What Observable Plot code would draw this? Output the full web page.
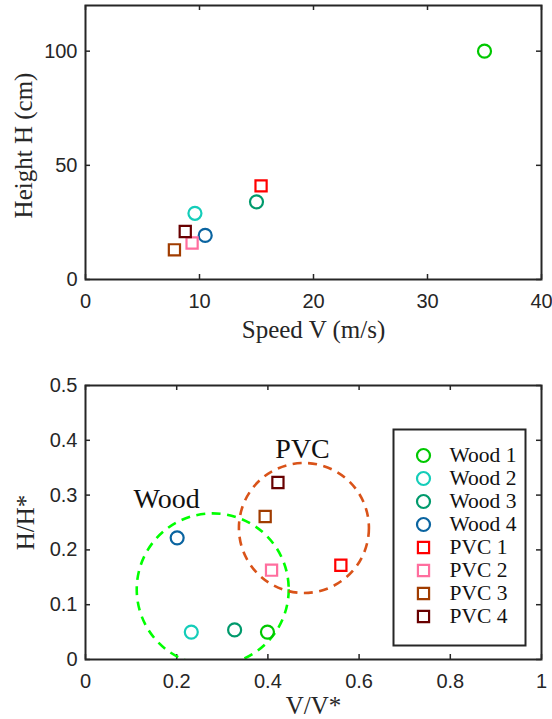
<!DOCTYPE html>
<html><head><meta charset="utf-8">
<script src="https://cdn.jsdelivr.net/npm/d3@7"></script>
<script src="https://cdn.jsdelivr.net/npm/@observablehq/plot@0.6"></script>
<style>
html,body{margin:0;padding:0;background:#fff;}
#wrap{position:relative;width:552px;height:719px;overflow:hidden;background:#fff;}
#wrap svg{display:block;}
#legend{position:absolute;left:392px;top:428px;}
</style></head><body><div id="wrap"></div>
<script>
// ---- data ----
const series = ["Wood 1","Wood 2","Wood 3","Wood 4","PVC 1","PVC 2","PVC 3","PVC 4"];
const material = ["Wood","Wood","Wood","Wood","PVC","PVC","PVC","PVC"];
const colors = ["#00c800","#14cdb9","#009a6c","#0a64a0","#ff0000","#ff6e9e","#a03c00","#680000"];
const speed = [35.0, 9.6, 15.0, 10.5, 15.4, 9.35, 7.8, 8.75];      // V (m/s)
const heightCm = [100, 29, 34, 19.3, 41, 16, 13, 21];               // H (cm)
const vRatio = [0.399, 0.232, 0.327, 0.201, 0.560, 0.408, 0.394, 0.422]; // V/V*
const hRatio = [0.050, 0.050, 0.054, 0.222, 0.172, 0.163, 0.261, 0.323]; // H/H*
const groupNames = ["Wood","PVC"];
const groupCenterV = [0.279, 0.479];
const groupCenterH = [0.128, 0.240];
const groupLabelV = [0.178, 0.476];
const groupLabelH = [0.293, 0.384];
const groupColors = ["#00ff00","#d95319"];
const topXTicks = [0,10,20,30,40];
const topYTicks = [0,50,100];
const botXTicks = [0,0.2,0.4,0.6,0.8,1];
const botYTicks = [0,0.1,0.2,0.3,0.4,0.5];
const topXLabel = "Speed V (m/s)";
const topYLabel = "Height H (cm)";
const botXLabel = "V/V*";
const botYLabel = "H/H*";

const rows = series.map((s,i)=>({s, m: material[i], c: colors[i], v: speed[i], h: heightCm[i], vr: vRatio[i], hr: hRatio[i]}));
const groups = groupNames.map((g,i)=>({g, cv: groupCenterV[i], ch: groupCenterH[i], lv: groupLabelV[i], lh: groupLabelH[i], c: groupColors[i]}));

const fontTick = "'Liberation Sans', Arial, Helvetica, sans-serif";
const fontSerif = "'Liberation Serif', 'Times New Roman', serif";
const ink = "#262626";
const fmt = d => `${d}`;

function innerTicks(xt, yt, pw, ph) {
  const o = {stroke: ink, strokeWidth: 1.5};
  return [
    Plot.tickX(xt, {x: d=>d, ...o, insetTop: ph-5}),
    Plot.tickX(xt, {x: d=>d, ...o, insetBottom: ph-5}),
    Plot.tickY(yt, {y: d=>d, ...o, insetRight: pw-5}),
    Plot.tickY(yt, {y: d=>d, ...o, insetLeft: pw-5})
  ];
}
function markers(xk, yk) {
  return [
    Plot.dot(rows.filter(d=>d.m==="Wood"), {x: xk, y: yk, symbol: "circle", r: 6.5, stroke: d=>d.c, strokeWidth: 2.2, fill: "none"}),
    Plot.dot(rows.filter(d=>d.m==="PVC"), {x: xk, y: yk, symbol: "square", r: 6.3, stroke: d=>d.c, strokeWidth: 2.2, fill: "none"})
  ];
}
const axisStyle = {fontFamily: fontTick, fontSize: 20, fill: ink, tickFormat: fmt};
const labelStyle = {fontFamily: fontSerif, fontSize: 25, fill: ink, letterSpacing: "0.5px", textAnchor: "middle", lineAnchor: "middle"};

// ---- top panel ----
const topPlot = Plot.plot({
  width: 552, height: 345,
  marginLeft: 85, marginRight: 11, marginTop: 5, marginBottom: 66,
  x: {domain: [0,40]},
  y: {domain: [0,120]},
  color: {type: "identity"},
  style: {background: "white", color: ink, overflow: "visible"},
  marks: [
    Plot.axisX(topXTicks, {tickSize: 0, tickPadding: 14, label: null, ...axisStyle}),
    Plot.axisY(topYTicks, {tickSize: 0, tickPadding: 8, label: null, ...axisStyle}),
    ...innerTicks(topXTicks, topYTicks, 456, 274),
    Plot.frame({stroke: ink, strokeWidth: 2}),
    ...markers("v", "h"),
    Plot.text([topXLabel], {text: d=>d, frameAnchor: "bottom", dy: 50, ...labelStyle}),
    Plot.text([topYLabel], {text: d=>d, frameAnchor: "left", rotate: -90, dx: -62, dy: 3, ...labelStyle})
  ]
});

// ---- bottom panel ----
const botPlot = Plot.plot({
  width: 552, height: 374,
  marginLeft: 85, marginRight: 11, marginTop: 40, marginBottom: 60,
  x: {domain: [0,1]},
  y: {domain: [0,0.5]},
  color: {type: "identity"},
  style: {background: "white", color: ink, overflow: "visible"},
  marks: [
    Plot.axisX(botXTicks, {tickSize: 0, tickPadding: 14, label: null, ...axisStyle}),
    Plot.axisY(botYTicks, {tickSize: 0, tickPadding: 8, label: null, ...axisStyle}),
    ...innerTicks(botXTicks, botYTicks, 456, 274),
    Plot.dot(groups.filter(d=>d.g==="Wood"), {x: "cv", y: "ch", r: 76, stroke: d=>d.c, strokeWidth: 2.6, strokeDasharray: "9,6.5", fill: "none", clip: true}),
    Plot.dot(groups.filter(d=>d.g==="PVC"), {x: "cv", y: "ch", r: 65, stroke: d=>d.c, strokeWidth: 2.6, strokeDasharray: "9,6.5", fill: "none", clip: true}),
    Plot.text(groups, {x: "lv", y: "lh", text: "g", fontFamily: fontSerif, fontSize: 28, fill: "#111"}),
    Plot.frame({stroke: ink, strokeWidth: 2}),
    ...markers("vr", "hr"),
    Plot.text([botXLabel], {text: d=>d, frameAnchor: "bottom", dy: 46, ...labelStyle}),
    Plot.text([botYLabel], {text: d=>d, frameAnchor: "left", rotate: -90, dx: -60, ...labelStyle})
  ]
});

// ---- legend ----
const legendPlot = Plot.plot({
  width: 134, height: 218,
  marginLeft: 1, marginRight: 1, marginTop: 1, marginBottom: 1,
  x: {axis: null},
  y: {type: "point", domain: series, range: [15, 199], axis: null},
  color: {type: "identity"},
  style: {background: "white", overflow: "visible"},
  marks: [
    Plot.frame({stroke: ink, strokeWidth: 2, fill: "white"}),
    Plot.dot(rows.filter(d=>d.m==="Wood"), {y: "s", frameAnchor: "left", dx: 30, symbol: "circle", r: 6.5, stroke: d=>d.c, strokeWidth: 2.2, fill: "none"}),
    Plot.dot(rows.filter(d=>d.m==="PVC"), {y: "s", frameAnchor: "left", dx: 30, symbol: "square", r: 6.3, stroke: d=>d.c, strokeWidth: 2.2, fill: "none"}),
    Plot.text(rows, {y: "s", text: "s", frameAnchor: "left", dx: 56, textAnchor: "start", fontFamily: fontSerif, fontSize: 21.5, fill: "#111"})
  ]
});
legendPlot.id = "legend";

const wrap = document.getElementById("wrap");
wrap.appendChild(topPlot);
wrap.appendChild(botPlot);
wrap.appendChild(legendPlot);
</script>
</body></html>
